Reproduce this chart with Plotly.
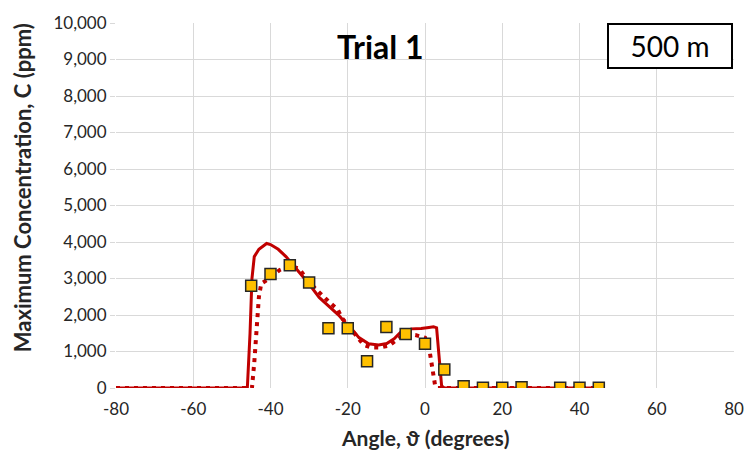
import plotly.graph_objects as go

# Measured data (squares)
meas_x = [-45, -40, -35, -30, -25, -20, -15, -10, -5, 0, 5, 10, 15, 20, 25, 35, 40, 45]
meas_y = [2800, 3120, 3360, 2890, 1640, 1640, 730, 1670, 1480, 1210, 510, 50, 10, 10, 20, 10, 10, 10]

# Model (solid)
solid_x = [-80, -46, -45.3, -44.8, -44.2, -43, -41, -40, -38, -36, -34, -32, -30, -27.4, -25, -22.3, -21, -19, -17.1, -14.6, -12, -9.9, -8, -6.4, -3.5, -1, 1, 2.2, 3, 3.5, 3.9, 4.3, 5, 45]
solid_y = [0, 0, 1500, 3000, 3600, 3800, 3960, 3930, 3800, 3600, 3350, 3100, 2850, 2480, 2250, 1990, 1830, 1620, 1380, 1210, 1180, 1220, 1350, 1520, 1620, 1630, 1660, 1680, 1650, 1100, 560, 60, 0, 0]

# Model (dotted)
dot_x = [-80, -44.8, -44.2, -43.6, -43, -42.4, -40.3, -37.7, -35, -32.6, -30, -27.6, -26, -24.5, -22.6, -21.5, -15.9, -13.9, -11.6, -9.3, -7, -5, -2.5, 0, 1.3, 1.6, 2.2, 2.6, 3.2, 45]
dot_y = [0, 0, 700, 1700, 2500, 2860, 3000, 3230, 3350, 3270, 2900, 2640, 2460, 2330, 2150, 1920, 1180, 1110, 1110, 1160, 1350, 1480, 1450, 1380, 940, 750, 480, 80, 0, 0]

x_ticks = [-80, -60, -40, -20, 0, 20, 40, 60, 80]
x_tick_labels = ["-80", "-60", "-40", "-20", "0", "20", "40", "60", "80"]
y_ticks = list(range(0, 10001, 1000))

RED = "#C00000"
GRID = "#D9D9D9"
FONT = "Lato"
TXT = "#262626"

# plot-area pixel geometry (for placing free text in paper coordinates)
L, R, T, B = 116, 737, 17, 388
W, H = R - L, B - T


def px(xp):
    return (xp - L) / W


def py(yp):
    return (B - yp) / H


fig = go.Figure()
fig.add_trace(go.Scatter(x=dot_x, y=dot_y, mode="lines",
                         line=dict(color=RED, width=4, dash="4px,5px"), showlegend=False))
fig.add_trace(go.Scatter(x=solid_x, y=solid_y, mode="lines",
                         line=dict(color=RED, width=3), showlegend=False))
fig.add_trace(go.Scatter(x=meas_x, y=meas_y, mode="markers",
                         marker=dict(symbol="square", size=11, color="#FFC000",
                                     line=dict(color="#262626", width=1.5)),
                         showlegend=False))

fig.update_layout(
    width=756, height=452,
    margin=dict(l=L, r=756 - R, t=T, b=452 - B),
    paper_bgcolor="white", plot_bgcolor="white",
    font=dict(family=FONT, color=TXT),
    xaxis=dict(range=[-80, 80], tickvals=x_ticks, ticktext=x_tick_labels, showgrid=True,
               gridcolor=GRID, gridwidth=1, zeroline=False, showline=False, ticks="",
               ticklabelstandoff=9, tickfont=dict(size=17, color=TXT)),
    yaxis=dict(range=[0, 10000], tickvals=y_ticks, tickformat=",d", showgrid=True, gridcolor=GRID,
               gridwidth=1, zeroline=False, showline=False, ticks="outside", ticklen=5,
               tickcolor=GRID, tickfont=dict(size=17, color=TXT)),
    annotations=[
        dict(text="<b>Angle, \u03d1 (degrees)</b>", x=px(427), y=py(438),
             xref="paper", yref="paper", xanchor="center", yanchor="middle",
             showarrow=False, font=dict(size=21, color=TXT, family=FONT)),
        dict(text="<b>Maximum Concentration, C (ppm)</b>", x=px(22), y=py(184.5),
             xref="paper", yref="paper", xanchor="center", yanchor="middle", textangle=-90,
             showarrow=False, font=dict(size=22, color=TXT, family=FONT)),
        dict(text="<b>Trial 1</b>", x=px(382), y=py(41),
             xref="paper", yref="paper", xanchor="center", yanchor="middle",
             showarrow=False, font=dict(size=32, color="black", family=FONT)),
        dict(text="500 m", x=px(673), y=py(40),
             xref="paper", yref="paper", xanchor="center", yanchor="middle",
             showarrow=False, font=dict(size=28, color="black", family=FONT),
             bordercolor="black", borderwidth=2, borderpad=1, bgcolor="white",
             width=120, height=40),
    ],
)

fig.write_html("out.html")
